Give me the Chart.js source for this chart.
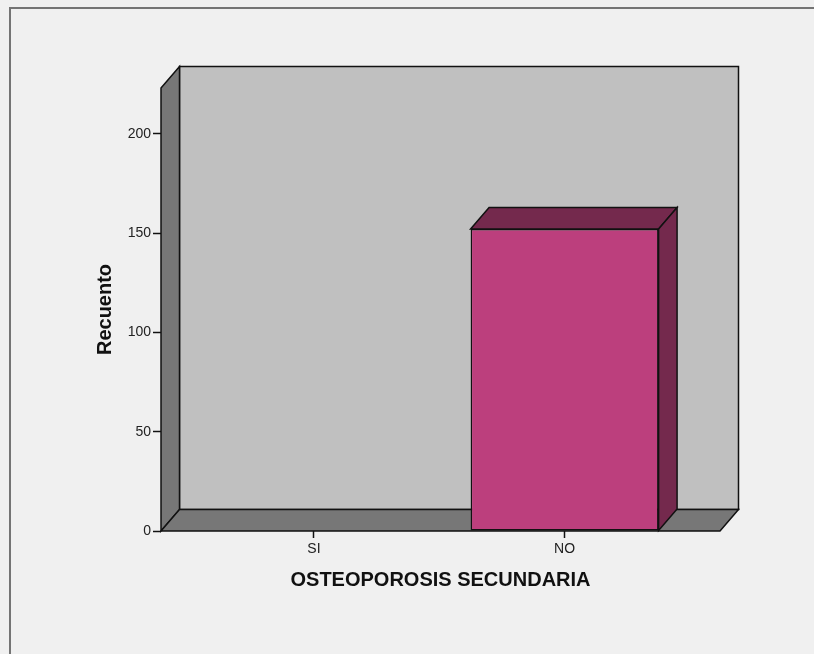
<!DOCTYPE html>
<html>
<head>
<meta charset="utf-8">
<title>OSTEOPOROSIS SECUNDARIA</title>
<script src="https://cdn.jsdelivr.net/npm/chart.js@4/dist/chart.umd.min.js"></script>
<style>
  html, body { margin: 0; padding: 0; background: #f0f0f0; }
  canvas { display: block; }
</style>
</head>
<body>
<canvas id="chart" width="814" height="654"></canvas>
<script>
// Counts per category
const categories = ['SI', 'NO'];
const counts = [0, 152];
const yTicks = [0, 50, 100, 150, 200];

// 3D depth of the walls and bars (pixels)
const DEPTH_X = 18.5;
const DEPTH_Y = -21.5;

const WALL_BACK = '#c0c0c0';
const WALL_SIDE = '#777777';
const BAR_FRONT = '#bc3f7d';
const BAR_SHADE = '#74294d';
const EDGE = '#111111';

function poly(ctx, pts, fill) {
  ctx.beginPath();
  ctx.moveTo(pts[0][0], pts[0][1]);
  for (let i = 1; i < pts.length; i++) ctx.lineTo(pts[i][0], pts[i][1]);
  ctx.closePath();
  ctx.fillStyle = fill;
  ctx.fill();
  ctx.stroke();
}

// Outer frame lines (left and top edges)
const framePlugin = {
  id: 'frame',
  beforeDraw(chart) {
    const ctx = chart.ctx;
    ctx.save();
    ctx.fillStyle = '#f0f0f0';
    ctx.fillRect(0, 0, chart.width, chart.height);
    ctx.fillStyle = '#747474';
    ctx.fillRect(9, 7, chart.width - 9, 2);
    ctx.fillRect(9, 7, 2, chart.height - 7);
    ctx.restore();
  }
};

// Back wall, left wall and floor of the 3D box, then the top and side faces of each bar
const boxPlugin = {
  id: 'box3d',
  beforeDatasetsDraw(chart) {
    const { left, right, top, bottom } = chart.chartArea;
    const ctx = chart.ctx;
    ctx.save();
    ctx.lineWidth = 1.5;
    ctx.strokeStyle = EDGE;
    ctx.lineJoin = 'miter';
    const dx = DEPTH_X, dy = DEPTH_Y;
    poly(ctx, [[left + dx, top + dy], [right + dx, top + dy], [right + dx, bottom + dy], [left + dx, bottom + dy]], WALL_BACK);
    poly(ctx, [[left, top], [left + dx, top + dy], [left + dx, bottom + dy], [left, bottom]], WALL_SIDE);
    poly(ctx, [[left, bottom], [left + dx, bottom + dy], [right + dx, bottom + dy], [right, bottom]], WALL_SIDE);
    ctx.restore();
  },
  afterDatasetsDraw(chart) {
    const ctx = chart.ctx;
    const meta = chart.getDatasetMeta(0);
    ctx.save();
    ctx.lineWidth = 1.5;
    ctx.strokeStyle = EDGE;
    const dx = DEPTH_X, dy = DEPTH_Y;
    meta.data.forEach((bar, i) => {
      if (!counts[i]) return;
      const p = bar.getProps(['x', 'y', 'base', 'width'], true);
      const x0 = p.x - p.width / 2, x1 = p.x + p.width / 2;
      poly(ctx, [[x0, p.y], [x0 + dx, p.y + dy], [x1 + dx, p.y + dy], [x1, p.y]], BAR_SHADE);
      poly(ctx, [[x1, p.y], [x1 + dx, p.y + dy], [x1 + dx, p.base + dy], [x1, p.base]], BAR_SHADE);
    });
    ctx.restore();
  }
};

const tickFont = { family: 'Arial, "Liberation Sans", sans-serif', size: 14 };
const titleFont = { family: 'Arial, "Liberation Sans", sans-serif', size: 20, weight: 'bold' };

new Chart(document.getElementById('chart'), {
  type: 'bar',
  data: {
    datasets: [{
      data: categories.map((c, i) => ({ x: i, y: counts[i] })),
      backgroundColor: BAR_FRONT,
      borderColor: EDGE,
      borderWidth: 1.5,
      borderSkipped: false,
      barPercentage: 0.75,
      categoryPercentage: 1
    }]
  },
  plugins: [framePlugin, boxPlugin],
  options: {
    responsive: false,
    animation: false,
    layout: { padding: { left: 0, right: 94, top: 88, bottom: 0 } },
    plugins: { legend: { display: false }, tooltip: { enabled: false } },
    scales: {
      x: {
        type: 'linear',
        offset: false,
        min: -0.61,
        max: 1.62,
        afterBuildTicks(scale) { scale.ticks = categories.map((c, i) => ({ value: i })); },
        afterFit(scale) { scale.height = 123; },
        ticks: {
          callback: (v) => categories[v],
          font: tickFont,
          color: '#222222',
          padding: 3,
          maxRotation: 0,
          autoSkip: false
        },
        grid: { offset: false, drawOnChartArea: false, drawTicks: true, tickLength: 7, tickWidth: 1.5, tickColor: '#111111' },
        border: { display: false },
        title: {
          display: true,
          text: 'OSTEOPOROSIS SECUNDARIA',
          font: titleFont,
          color: '#111111',
          padding: { top: 0, bottom: 62 }
        }
      },
      y: {
        min: 0,
        max: 223,
        afterBuildTicks(scale) { scale.ticks = yTicks.map(v => ({ value: v })); },
        afterFit(scale) { scale.width = 161; },
        ticks: { font: tickFont, color: '#222222', padding: 2 },
        grid: { drawOnChartArea: false, drawTicks: true, tickLength: 8, tickWidth: 1.5, tickColor: '#111111' },
        border: { display: false },
        title: {
          display: true,
          text: 'Recuento',
          font: titleFont,
          color: '#111111',
          padding: { top: 93, bottom: 0 }
        }
      }
    }
  }
});
</script>
</body>
</html>
